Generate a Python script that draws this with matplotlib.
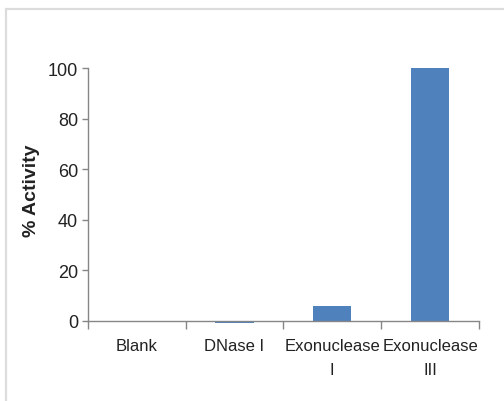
import matplotlib
matplotlib.use("Agg")
import matplotlib.pyplot as plt
from matplotlib.patches import Rectangle

# ── data ──────────────────────────────────────────────
categories = ["Blank", "DNase I", "Exonuclease\nI", "Exonuclease\nIII"]
activity = [0.0, -0.8, 5.8, 100.0]
yticks = [0, 20, 40, 60, 80, 100]

# ── style ─────────────────────────────────────────────
FONT = "Liberation Sans"
BAR = "#4f81bd"
AXIS = "#868686"
TXT = "#222222"

fig = plt.figure(figsize=(5.04, 4.02), dpi=100)
ax = fig.add_axes([87.7 / 504, 1 - 322 / 402, (479 - 87.7) / 504, (322 - 69.3) / 402])

x = list(range(len(categories)))
ax.bar(x, activity, width=0.39, color=BAR, clip_on=False, zorder=2)

ax.set_xlim(-0.5, len(categories) - 0.5)
ax.set_ylim(0, 100)
ax.set_yticks(yticks)
ax.set_yticklabels([str(v) for v in yticks], fontfamily=FONT, fontsize=13, color=TXT)
# category boundaries carry the tick marks, the labels sit at the centres
ax.set_xticks([i - 0.5 for i in range(len(categories) + 1)])
ax.set_xticklabels([])
ax.set_xticks(x, minor=True)
ax.set_xticklabels(categories, minor=True, fontfamily=FONT, fontsize=12,
                   color=TXT, linespacing=1.75)
ax.tick_params(axis="x", which="minor", length=0, pad=12)
ax.tick_params(axis="x", which="major", length=6, color=AXIS, width=1)
ax.tick_params(axis="y", length=4, color=AXIS, width=1, pad=3)

for side in ("top", "right"):
    ax.spines[side].set_visible(False)
for side in ("left", "bottom"):
    ax.spines[side].set_color(AXIS)
    ax.spines[side].set_linewidth(1)

fig.text(32 / 504, 1 - 191 / 402, "% Activity", rotation=90, ha="center", va="center",
         fontfamily=FONT, fontweight="bold", fontsize=14, color=TXT)

# light frame around the chart area
fig.patches.append(Rectangle((6 / 504, -0.1), 1.2, 1 - 10 / 402 + 0.1,
                             transform=fig.transFigure, fill=False,
                             edgecolor="#dcdcdc", lw=1.6))

fig.savefig("out.png", dpi=100, facecolor="white")
